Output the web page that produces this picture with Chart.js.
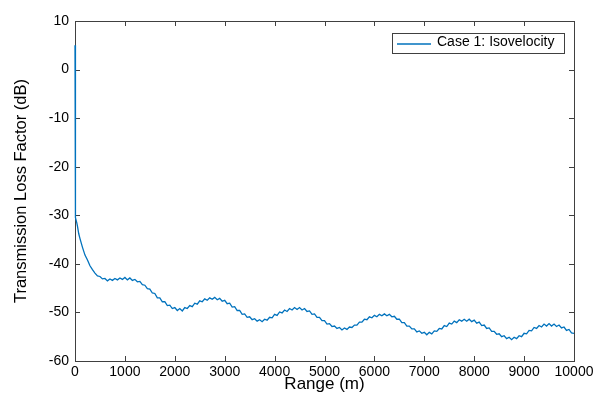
<!DOCTYPE html>
<html>
<head>
<meta charset="utf-8">
<script src="https://cdn.jsdelivr.net/npm/chart.js@4"></script>
<style>
  html, body { margin: 0; padding: 0; background: #fff; }
  #wrap { width: 603px; height: 398px; }
</style>
</head>
<body>
<div id="wrap"><canvas id="tlChart"></canvas></div>
<script>
// ================= DATA =================
// near-field samples (m)
const headRange = [0, 2, 4, 7, 12, 20, 35, 50, 75, 100, 150, 200, 250, 300, 350, 400, 450];
const headLoss = [5, -8, -18, -25, -29, -30.5, -31.5, -32.3, -33.8, -34.8, -36.6, -38.2, -39.2, -40.4, -41.2, -41.9, -42.5];

// 500 m .. 10000 m, every 50 m
const gridStart = 500;
const gridStep = 50;
const gridLoss = [
  -42.6, -43.1, -43.0, -43.5, -43.1, -43.4, -43.0, -43.3, -42.9, -43.2,
  -42.8, -43.3, -42.9, -43.4, -43.2, -43.7, -43.6, -44.3, -44.4, -45.1,
  -45.2, -46.0, -46.1, -47.0, -47.0, -47.8, -47.8, -48.6, -48.5, -49.2,
  -49.0, -49.6, -49.2, -49.7, -49.0, -49.2, -48.6, -48.8, -48.1, -48.3,
  -47.6, -47.8, -47.2, -47.5, -47.0, -47.3, -46.9, -47.4, -47.1, -47.7,
  -47.5, -48.2, -48.1, -48.9, -48.8, -49.6, -49.6, -50.4, -50.3, -51.0,
  -50.9, -51.5, -51.3, -51.8, -51.5, -51.9, -51.4, -51.6, -51.0, -51.1,
  -50.4, -50.6, -49.9, -50.1, -49.5, -49.8, -49.2, -49.5, -49.0, -49.4,
  -49.0, -49.5, -49.2, -49.8, -49.7, -50.4, -50.3, -51.0, -51.0, -51.7,
  -51.7, -52.4, -52.3, -52.9, -52.8, -53.3, -53.1, -53.6, -53.2, -53.5,
  -53.0, -53.1, -52.6, -52.6, -52.0, -52.0, -51.4, -51.5, -50.9, -51.1,
  -50.6, -50.9, -50.4, -50.7, -50.3, -50.7, -50.4, -50.9, -50.8, -51.4,
  -51.4, -52.1, -52.1, -52.8, -52.8, -53.4, -53.4, -54.0, -53.8, -54.3,
  -54.1, -54.6, -54.1, -54.4, -53.8, -53.9, -53.3, -53.4, -52.7, -52.9,
  -52.2, -52.4, -51.8, -52.1, -51.5, -51.8, -51.4, -51.8, -51.4, -51.9,
  -51.6, -52.2, -52.0, -52.7, -52.6, -53.3, -53.2, -53.9, -53.9, -54.5,
  -54.4, -55.0, -54.8, -55.4, -55.1, -55.6, -55.1, -55.4, -54.8, -55.0,
  -54.3, -54.4, -53.7, -53.8, -53.1, -53.3, -52.7, -53.0, -52.4, -52.8,
  -52.3, -52.8, -52.4, -52.9, -52.6, -53.2, -53.0, -53.7, -53.5, -54.2,
  -54.3
];

const xTicks = [0, 1000, 2000, 3000, 4000, 5000, 6000, 7000, 8000, 9000, 10000];
const yTicks = [-60, -50, -40, -30, -20, -10, 0, 10];
const seriesLabel = "Case 1: Isovelocity";

// ================= BUILD POINTS =================
const points = headRange.map((r, i) => ({ x: r, y: headLoss[i] }));
gridLoss.forEach((v, i) => points.push({ x: gridStart + i * gridStep, y: v }));

const LINE = "#0072BD";
const AXIS = "#404040";
const FONT = "'Liberation Sans', Arial, sans-serif";

// ================= FRAME / TICKS / LEGEND =================
const matlabFrame = {
    id: "matlabFrame",
    beforeDatasetsDraw(chart) {
        const { ctx, chartArea: a, scales } = chart;
        const len = 5;
        ctx.save();
        ctx.strokeStyle = AXIS;
        ctx.lineWidth = 1;
        ctx.strokeRect(a.left + 0.5, a.top + 0.5, a.right - a.left, a.bottom - a.top);

        ctx.beginPath();
        xTicks.forEach(t => {
            const px = Math.round(scales.x.getPixelForValue(t)) + 0.5;
            ctx.moveTo(px, a.bottom); ctx.lineTo(px, a.bottom - len);
            ctx.moveTo(px, a.top); ctx.lineTo(px, a.top + len);
        });
        yTicks.forEach(t => {
            const py = Math.round(scales.y.getPixelForValue(t)) + 0.5;
            ctx.moveTo(a.left, py); ctx.lineTo(a.left + len, py);
            ctx.moveTo(a.right, py); ctx.lineTo(a.right - len, py);
        });
        ctx.stroke();
        ctx.restore();
    },
    afterDraw(chart) {
        const { ctx, chartArea: a } = chart;
        // legend box
        const bx = a.right - 182, by = a.top + 12, bw = 172, bh = 20;
        ctx.save();
        ctx.fillStyle = "#fff";
        ctx.fillRect(bx, by, bw, bh);
        ctx.strokeStyle = AXIS;
        ctx.lineWidth = 1;
        ctx.strokeRect(bx + 0.5, by + 0.5, bw, bh);
        ctx.strokeStyle = LINE;
        ctx.lineWidth = 1.3;
        ctx.beginPath();
        ctx.moveTo(bx + 5, by + 11);
        ctx.lineTo(bx + 39, by + 11);
        ctx.stroke();
        ctx.fillStyle = "#000";
        ctx.font = "14px " + FONT;
        ctx.textBaseline = "middle";
        ctx.fillText(seriesLabel, bx + 45, by + 9);
        ctx.restore();
    }
};

// ================= CHART =================
new Chart(document.getElementById("tlChart"), {
    type: "line",
    data: {
        datasets: [{
            label: seriesLabel,
            data: points,
            borderColor: LINE,
            borderWidth: 1.3,
            pointRadius: 0,
            tension: 0,
            fill: false,
            clip: { left: 2, right: 0, top: 0, bottom: 0 }
        }]
    },
    options: {
        responsive: true,
        maintainAspectRatio: false,
        animation: false,
        layout: { padding: { top: 21, right: 29, left: 0, bottom: 0 } },
        plugins: {
            legend: { display: false },
            tooltip: { enabled: false }
        },
        scales: {
            x: {
                type: "linear",
                min: 0,
                max: 10000,
                afterBuildTicks: s => { s.ticks = xTicks.map(v => ({ value: v })); },
                afterFit: s => { s.height = 37; },
                grid: { display: false, drawTicks: false },
                border: { display: false },
                ticks: {
                    color: "#000",
                    padding: 3,
                    maxRotation: 0,
                    autoSkip: false,
                    font: { size: 14, family: FONT },
                    callback: v => String(v)
                },
                title: {
                    display: true,
                    text: "Range (m)",
                    color: "#000",
                    padding: { top: 0, bottom: 3 },
                    font: { size: 17, family: FONT }
                }
            },
            y: {
                type: "linear",
                min: -60,
                max: 10,
                afterBuildTicks: s => { s.ticks = yTicks.map(v => ({ value: v })); },
                afterFit: s => { s.width = 75; },
                grid: { display: false, drawTicks: false },
                border: { display: false },
                ticks: {
                    color: "#000",
                    padding: 6,
                    autoSkip: false,
                    font: { size: 14, family: FONT },
                    callback: v => String(v)
                },
                title: {
                    display: true,
                    text: "Transmission Loss Factor (dB)",
                    color: "#000",
                    padding: { top: 12, bottom: 0 },
                    font: { size: 16.5, family: FONT }
                }
            }
        }
    },
    plugins: [matlabFrame]
});
</script>
</body>
</html>
